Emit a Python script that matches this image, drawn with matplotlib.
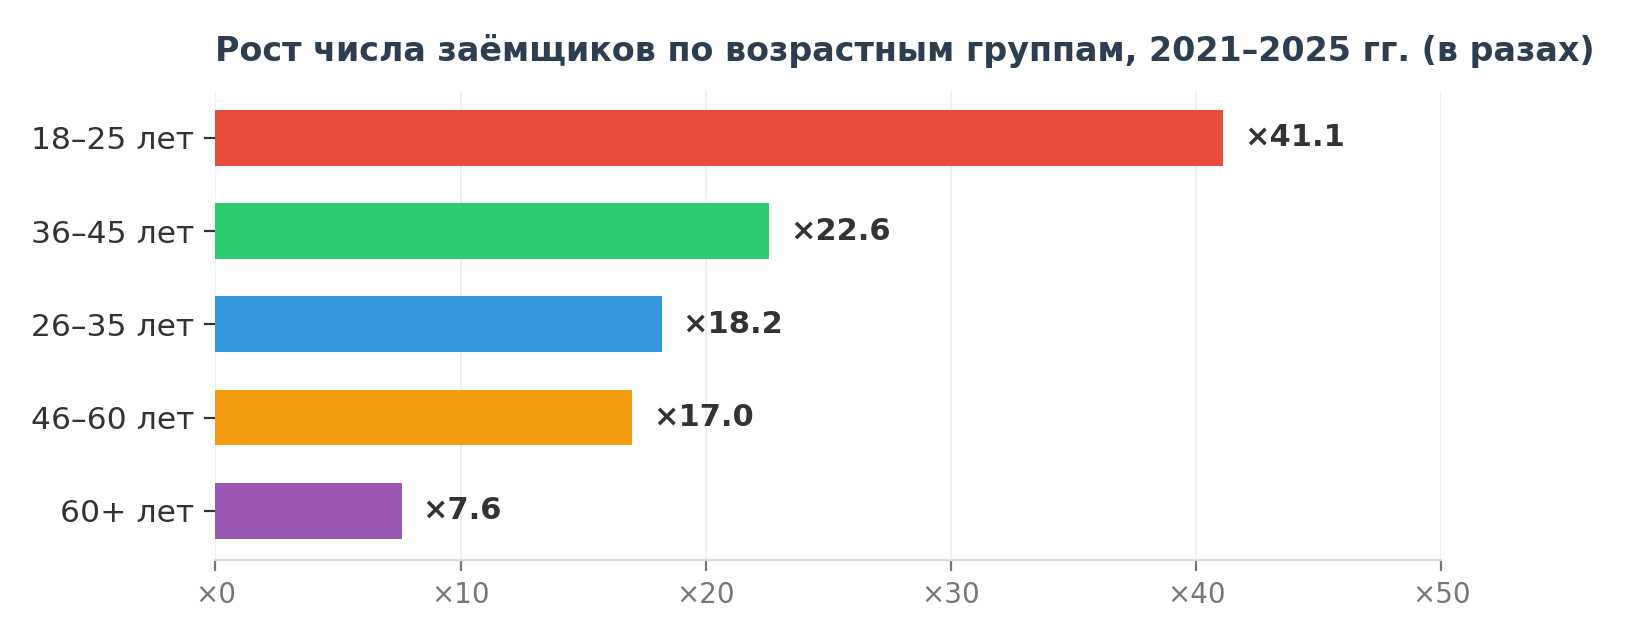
import matplotlib.pyplot as plt

plt.rcParams["font.family"] = ["DejaVu Sans"]

groups = ["18–25 лет", "36–45 лет", "26–35 лет", "46–60 лет", "60+ лет"]
growth = [41.1, 22.6, 18.2, 17.0, 7.6]
colors = ["#e74c3c", "#2ecc71", "#3498db", "#f39c12", "#9b59b6"]
xticks = [0, 10, 20, 30, 40, 50]

fig, ax = plt.subplots(figsize=(8.125, 3.19), dpi=200)
fig.subplots_adjust(left=0.1325, right=0.887, top=0.857, bottom=0.122)

ypos = list(range(len(groups)))[::-1]
ax.barh(ypos, growth, height=0.6, color=colors, zorder=3)

for y, v in zip(ypos, growth):
    ax.text(v + 0.85, y, f"×{v:.1f}", va="center", ha="left",
            fontsize=11, fontweight="bold", color="#333333")

ax.set_yticks(ypos)
ax.set_yticklabels(groups, fontsize=11.3, color="#333333")
ax.set_xticks(xticks)
ax.set_xticklabels([f"×{t}" for t in xticks], fontsize=10, color="#777777")
ax.set_xlim(0, 50)
ax.set_ylim(-0.53, 4.5)

ax.tick_params(axis="x", colors="#777777", length=4, labelcolor="#777777")
ax.tick_params(axis="y", length=4, color="#333333")
for s in ["top", "right", "left"]:
    ax.spines[s].set_visible(False)
ax.spines["bottom"].set_color("#dddddd")
ax.grid(axis="x", color="#f0f0f0", linewidth=0.7, zorder=0)

ax.set_title("Рост числа заёмщиков по возрастным группам, 2021–2025 гг. (в разах)",
             loc="left", fontsize=12, fontweight="bold", color="#2c3e50", pad=11)

fig.savefig("out.png", dpi=200)
